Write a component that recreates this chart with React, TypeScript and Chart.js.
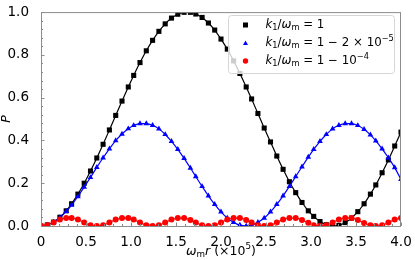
import React, { useEffect, useRef } from "react";
import { Chart, registerables } from "chart.js";

Chart.register(...registerables);

const xValues = [0.00,0.07,0.14,0.21,0.28,0.34,0.41,0.48,0.55,0.62,0.69,0.76,0.83,0.90,0.97,1.03,1.10,1.17,1.24,1.31,1.38,1.45,1.52,1.59,1.66,1.72,1.79,1.86,1.93,2.00,2.07,2.14,2.21,2.28,2.34,2.41,2.48,2.55,2.62,2.69,2.76,2.83,2.90,2.97,3.03,3.10,3.17,3.24,3.31,3.38,3.45,3.52,3.59,3.66,3.72,3.79,3.86,3.93,4.00];
const blackP = [0,.005,.018,.041,.071,.104,.149,.200,.257,.318,.382,.449,.517,.584,.650,.704,.764,.819,.868,.910,.945,.972,.990,.999,.999,.991,.975,.949,.916,.874,.827,.772,.713,.650,.594,.526,.458,.393,.327,.265,.207,.156,.110,.071,.045,.021,.006,.000,.003,.016,.037,.067,.104,.149,.192,.249,.309,.374,.439];
const blueP = [0,.004,.018,.039,.068,.098,.138,.182,.227,.274,.319,.361,.399,.430,.455,.470,.479,.479,.471,.454,.428,.396,.358,.316,.271,.231,.185,.141,.101,.066,.037,.017,.004,.000,.004,.017,.037,.066,.101,.141,.185,.231,.277,.322,.358,.396,.428,.454,.471,.479,.479,.470,.452,.426,.398,.361,.319,.273,.218];
const redP = [0,.004,.016,.030,.037,.037,.030,.016,.004,0,.004,.016,.030,.037,.037,.030,.016,.004,0,.004,.016,.030,.037,.037,.028,.016,.004,0,.004,.016,.030,.037,.037,.028,.016,.004,0,.004,.016,.030,.037,.037,.028,.015,.004,0,.004,.016,.030,.037,.037,.028,.014,.003,0,.004,.016,.030,.037];

const seriesLabels = ["k₁/ωₘ = 1", "k₁/ωₘ = 1 − 2 × 10⁻⁵", "k₁/ωₘ = 1 − 10⁻⁴"];
const seriesColors = ["#000000", "#0000ff", "#ff0000"];
const seriesMarkers = ["rect", "triangle", "circle"];
const xTickLabels = ["0", "0.5", "1.0", "1.5", "2.0", "2.5", "3.0", "3.5", "4.0"];
const yTickLabels = ["0.0", "0.2", "0.4", "0.6", "0.8", "1.0"];
const xTitle = "ωₘr (×10⁵)";
const yTitle = "P";

const FONT = "'DejaVu Sans', sans-serif";
const SUBS: Record<string, string> = { "₀": "0", "₁": "1", "₂": "2", "₃": "3", "₄": "4", "₅": "5", "ₘ": "m" };
const SUPS: Record<string, string> = { "⁰": "0", "¹": "1", "²": "2", "³": "3", "⁴": "4", "⁵": "5", "⁻": "−" };

type Seg = { t: string; kind: "n" | "i" | "sub" | "sup" };
function parseRich(text: string): Seg[] {
  const segs: Seg[] = [];
  for (const ch of Array.from(text)) {
    let kind: Seg["kind"] = "n";
    let t = ch;
    if (SUBS[ch]) { kind = "sub"; t = SUBS[ch]; }
    else if (SUPS[ch]) { kind = "sup"; t = SUPS[ch]; }
    else if (/[A-Za-z\u03b1-\u03c9]/.test(ch)) kind = "i";
    const last = segs[segs.length - 1];
    if (last && last.kind === kind) last.t += t; else segs.push({ t, kind });
  }
  return segs;
}
function segFont(kind: Seg["kind"], size: number) {
  if (kind === "i") return `italic ${size}px ${FONT}`;
  if (kind === "sub" || kind === "sup") return `${size * 0.7}px ${FONT}`;
  return `${size}px ${FONT}`;
}
function drawRich(ctx: CanvasRenderingContext2D, text: string, x: number, y: number, size: number, align: "left" | "center") {
  const segs = parseRich(text);
  let total = 0;
  const widths = segs.map((s) => { ctx.font = segFont(s.kind, size); const w = ctx.measureText(s.t).width; total += w; return w; });
  let cx = align === "center" ? x - total / 2 : x;
  ctx.textAlign = "left";
  ctx.textBaseline = "middle";
  segs.forEach((s, i) => {
    ctx.font = segFont(s.kind, size);
    const dy = s.kind === "sub" ? size * 0.28 : s.kind === "sup" ? -size * 0.36 : 0;
    ctx.fillText(s.t, cx, y + dy);
    cx += widths[i];
  });
}

const decorPlugin = {
  id: "decor",
  afterDatasetsDraw(chart: any) {
    const ctx: CanvasRenderingContext2D = chart.ctx;
    const { left, right, top, bottom } = chart.chartArea;
    const xs = chart.scales.x;
    const ys = chart.scales.y;
    ctx.save();
    ctx.strokeStyle = "#8c8c8c";
    ctx.lineWidth = 1;
    ctx.beginPath();
    for (let i = 0; i <= 40; i++) {
      const px = Math.round(xs.getPixelForValue(i / 10)) + 0.5;
      const len = i % 5 === 0 ? 3.5 : 2;
      ctx.moveTo(px, bottom);
      ctx.lineTo(px, bottom - len);
    }
    for (let i = 0; i <= 25; i++) {
      const py = Math.round(ys.getPixelForValue(i * 0.04)) + 0.5;
      const len = i % 5 === 0 ? 3.5 : 2;
      ctx.moveTo(left, py);
      ctx.lineTo(left + len, py);
    }
    ctx.stroke();
    ctx.strokeRect(left + 0.5, top + 0.5, right - left - 1, bottom - top);
    ctx.restore();
  },
  afterDraw(chart: any) {
    const ctx: CanvasRenderingContext2D = chart.ctx;
    const { left, right, top, bottom } = chart.chartArea;
    ctx.save();
    const bx = 228.5, by = 15.5, bw = 166, bh = 58, r = 3;
    ctx.beginPath();
    ctx.moveTo(bx + r, by);
    ctx.arcTo(bx + bw, by, bx + bw, by + bh, r);
    ctx.arcTo(bx + bw, by + bh, bx, by + bh, r);
    ctx.arcTo(bx, by + bh, bx, by, r);
    ctx.arcTo(bx, by, bx + bw, by, r);
    ctx.closePath();
    ctx.fillStyle = "rgba(255,255,255,0.8)";
    ctx.fill();
    ctx.strokeStyle = "#d6d6d6";
    ctx.lineWidth = 1;
    ctx.stroke();
    const rows = [25, 43, 61];
    seriesLabels.forEach((lab, i) => {
      const yy = rows[i];
      ctx.fillStyle = seriesColors[i];
      ctx.beginPath();
      if (seriesMarkers[i] === "rect") ctx.rect(243, yy - 2.5, 5, 5);
      else if (seriesMarkers[i] === "triangle") { ctx.moveTo(245.5, yy - 2.5); ctx.lineTo(248, yy + 2); ctx.lineTo(243, yy + 2); ctx.closePath(); }
      else ctx.arc(245.5, yy, 2.7, 0, Math.PI * 2);
      ctx.fill();
      ctx.fillStyle = "#000";
      drawRich(ctx, lab, 265.5, yy, 11.8, "left");
    });
    ctx.fillStyle = "#000";
    drawRich(ctx, xTitle, (left + right) / 2, 251.5, 12.5, "center");
    ctx.translate(7, (top + bottom) / 2);
    ctx.rotate(-Math.PI / 2);
    drawRich(ctx, yTitle, 0, 0, 12.5, "center");
    ctx.restore();
  },
};

export default function App() {
  const ref = useRef<HTMLCanvasElement | null>(null);
  useEffect(() => {
    if (!ref.current) return;
    const mk = (ys: number[]) => xValues.map((x, i) => ({ x, y: ys[i] }));
    const series = [blackP, blueP, redP];
    const chart = new Chart(ref.current, {
      type: "line",
      data: {
        datasets: series.map((ys, i) => ({
          label: seriesLabels[i],
          data: mk(ys),
          borderColor: seriesColors[i],
          backgroundColor: seriesColors[i],
          borderWidth: 1.2,
          pointStyle: seriesMarkers[i] as any,
          pointRadius: i === 0 ? 3.6 : i === 1 ? 3.3 : 3,
          pointBorderWidth: 0,
          cubicInterpolationMode: "monotone" as const,
          order: 2 - i,
        })),
      },
      plugins: [decorPlugin],
      options: {
        animation: false,
        responsive: false,
        events: [],
        layout: { padding: { top: 9, right: 14, left: 0, bottom: 0 } },
        plugins: { legend: { display: false }, tooltip: { enabled: false } },
        scales: {
          x: {
            type: "linear",
            min: 0,
            max: 4,
            grid: { display: false },
            border: { display: false },
            ticks: {
              stepSize: 0.5,
              padding: 0,
              color: "#000",
              font: { family: FONT, size: 13.5 },
              maxRotation: 0,
              autoSkip: false,
              callback: (v: any) => xTickLabels[Math.round(Number(v) / 0.5)] ?? "",
            },
            afterFit: (s: any) => { s.height = 34; },
          },
          y: {
            type: "linear",
            min: 0,
            max: 1,
            grid: { display: false },
            border: { display: false },
            ticks: {
              stepSize: 0.2,
              padding: 4,
              color: "#000",
              font: { family: FONT, size: 13.5 },
              callback: (v: any) => yTickLabels[Math.round(Number(v) / 0.2)] ?? "",
            },
            afterFit: (s: any) => { s.width = 41; },
          },
        },
      },
    });
    return () => chart.destroy();
  }, []);
  return (
    <div style={{ position: "fixed", left: 0, top: 0, width: 415, height: 260, background: "#fff" }}>
      <canvas ref={ref} width={415} height={260} style={{ display: "block" }} />
    </div>
  );
}
